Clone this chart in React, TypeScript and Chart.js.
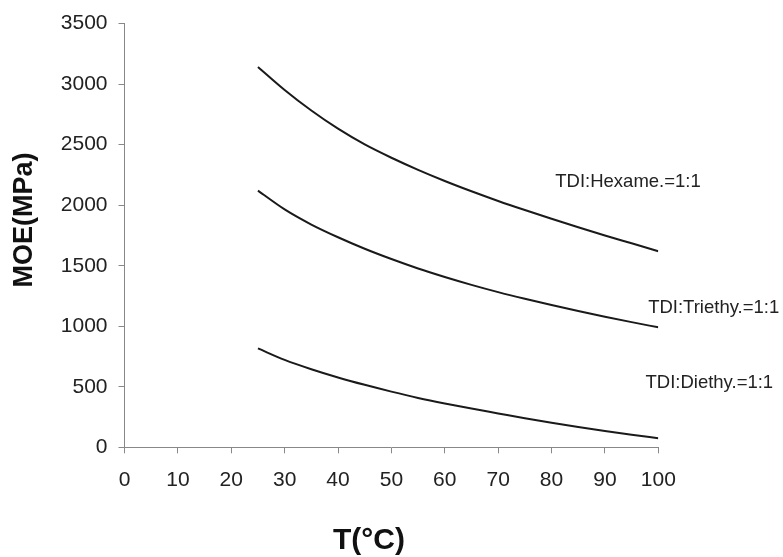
import React, { useEffect, useRef } from "react";
import { Chart, registerables } from "chart.js";

Chart.register(...registerables);

const temperatures = [25, 30, 35, 40, 45, 50, 55, 60, 65, 70, 75, 80, 85, 90, 95, 100];
const hexameMOE = [3142, 2952, 2782, 2632, 2502, 2392, 2292, 2200, 2115, 2035, 1960, 1888, 1818, 1750, 1685, 1620];
const triethyMOE = [2120, 1965, 1840, 1735, 1640, 1555, 1477, 1407, 1342, 1282, 1227, 1175, 1126, 1079, 1034, 991];
const diethyMOE = [817, 722, 645, 577, 516, 460, 408, 362, 320, 280, 240, 203, 168, 135, 104, 75];

const seriesNames = ["TDI:Hexame.=1:1", "TDI:Triethy.=1:1", "TDI:Diethy.=1:1"];
const labelX = [80.7, 98.1, 97.6];
const labelY = [2190, 1150, 531];

const xTicks = [0, 10, 20, 30, 40, 50, 60, 70, 80, 90, 100];
const yTicks = [0, 500, 1000, 1500, 2000, 2500, 3000, 3500];

const xTitle = "T(°C)";
const yTitle = "MOE(MPa)";

const FONT = "'Liberation Sans', Arial, Helvetica, sans-serif";

export default function App() {
  const ref = useRef<HTMLCanvasElement | null>(null);

  useEffect(() => {
    if (!ref.current) return;
    const mk = (vals: number[]) => temperatures.map((t, i) => ({ x: t, y: vals[i] }));
    const lineStyle = {
      borderColor: "#1a1a1a",
      borderWidth: 2,
      pointRadius: 0,
      fill: false,
      cubicInterpolationMode: "monotone" as const,
    };

    const annot = {
      id: "annot",
      afterDraw(chart: any) {
        const { ctx, scales } = chart;
        const xs = scales.x;
        const ys = scales.y;
        ctx.save();
        ctx.fillStyle = "#222";
        ctx.font = `18.5px ${FONT}`;
        ctx.textAlign = "left";
        ctx.textBaseline = "middle";
        seriesNames.forEach((n, i) => {
          ctx.fillText(n, xs.getPixelForValue(labelX[i]), ys.getPixelForValue(labelY[i]));
        });
        // axis titles
        ctx.font = `bold 30px ${FONT}`;
        ctx.textAlign = "center";
        ctx.fillStyle = "#111";
        ctx.fillText(xTitle, 369, 541);
        ctx.translate(25, 220);
        ctx.rotate(-Math.PI / 2);
        ctx.font = `bold 27px ${FONT}`;
        ctx.fillText(yTitle, 0, 0);
        ctx.restore();
      },
    };

    const chart = new Chart(ref.current, {
      type: "line",
      data: {
        datasets: [
          { label: seriesNames[0], data: mk(hexameMOE), ...lineStyle },
          { label: seriesNames[1], data: mk(triethyMOE), ...lineStyle },
          { label: seriesNames[2], data: mk(diethyMOE), ...lineStyle },
        ],
      },
      options: {
        animation: false,
        responsive: true,
        maintainAspectRatio: false,
        layout: { padding: { left: 0, right: 124.7, top: 23.3, bottom: 0 } },
        plugins: { legend: { display: false }, tooltip: { enabled: false } },
        scales: {
          x: {
            type: "linear",
            min: 0,
            max: 100,
            afterFit: (s: any) => {
              s.height = 109.7;
            },
            afterBuildTicks: (s: any) => {
              s.ticks = xTicks.map((v) => ({ value: v }));
            },
            ticks: {
              font: { size: 21, family: FONT },
              color: "#222",
              padding: 14,
              maxRotation: 0,
              callback: (v: any) => String(v),
            },
            grid: { drawOnChartArea: false, drawTicks: true, tickLength: 6, color: "#888" },
            border: { color: "#888", width: 1 },
          },
          y: {
            type: "linear",
            min: 0,
            max: 3500,
            afterFit: (s: any) => {
              s.width = 124.5;
            },
            afterBuildTicks: (s: any) => {
              s.ticks = yTicks.map((v) => ({ value: v }));
            },
            ticks: {
              font: { size: 21, family: FONT },
              color: "#222",
              padding: 11,
              callback: (v: any) => String(v),
            },
            grid: { drawOnChartArea: false, drawTicks: true, tickLength: 6, color: "#888" },
            border: { color: "#888", width: 1 },
          },
        },
      },
      plugins: [annot],
    });
    return () => chart.destroy();
  }, []);

  return (
    <div style={{ position: "fixed", left: 0, top: 0, width: 783, height: 557, background: "#fff" }}>
      <canvas ref={ref} />
    </div>
  );
}
